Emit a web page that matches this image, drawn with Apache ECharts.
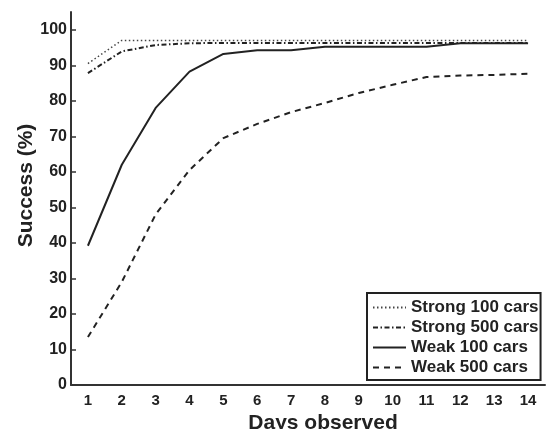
<!DOCTYPE html>
<html>
<head>
<meta charset="utf-8">
<script src="https://cdn.jsdelivr.net/npm/echarts@6/dist/echarts.min.js"></script>
<style>
html,body{margin:0;padding:0;background:#fff;}
#chart{width:547px;height:429px;}
</style>
</head>
<body>
<div id="chart"></div>
<script>
var days = ['1','2','3','4','5','6','7','8','9','10','11','12','13','14'];
var yTicks = [0,10,20,30,40,50,60,70,80,90,100];
var strong100 = [90.5, 97, 97, 97, 97, 97, 97, 97, 97, 97, 97, 97, 97, 97];
var strong500 = [87.8, 93.9, 95.7, 96.2, 96.3, 96.3, 96.3, 96.3, 96.3, 96.3, 96.3, 96.3, 96.3, 96.3];
var weak100 = [39.2, 62, 78, 88.2, 93.2, 94.2, 94.2, 95.2, 95.2, 95.2, 95.2, 96.2, 96.2, 96.2];
var weak500 = [13.5, 29, 48, 60.5, 69.5, 73.5, 76.8, 79.4, 82.2, 84.5, 86.7, 87.1, 87.3, 87.6];

var FONT = 'Liberation Sans, Arial, sans-serif';
var INK = '#222';
var chart = echarts.init(document.getElementById('chart'), null, {renderer:'canvas'});
function mk(name, data, type, width, color){
  return {
    name: name, type: 'line', data: data, symbol: 'none', animation: false,
    lineStyle: {color: color, width: width, type: type},
    itemStyle: {color: color}
  };
}
chart.setOption({
  animation: false,
  backgroundColor: '#fff',
  grid: {left: 71, right: 2, top: 12, bottom: 44, containLabel: false, outerBoundsMode: 'none'},
  xAxis: {
    type: 'category', data: days, boundaryGap: true,
    name: 'Days observed', nameLocation: 'middle', nameGap: 28, nameMoveOverlap: false,
    nameTextStyle: {fontFamily: FONT, fontWeight: 'bold', fontSize: 21, color: INK, padding: [0,0,0,30]},
    axisLine: {lineStyle: {color: '#333', width: 2}},
    axisTick: {inside: true, length: 4, alignWithLabel: true, lineStyle: {color: '#333', width: 1.5}},
    axisLabel: {fontFamily: FONT, fontWeight: 'bold', fontSize: 15, color: INK, margin: 8, interval: 0},
    splitLine: {show: false}
  },
  yAxis: {
    type: 'value', min: 0, max: 105,
    name: 'Success (%)', nameLocation: 'middle', nameGap: 34, nameRotate: 90, nameMoveOverlap: false,
    nameTextStyle: {fontFamily: FONT, fontWeight: 'bold', fontSize: 21, color: INK, padding: [0,0,0,26]},
    axisLine: {show: true, lineStyle: {color: '#333', width: 2}},
    axisTick: {show: true, inside: true, length: 5, customValues: yTicks, lineStyle: {color: '#333', width: 1.5}},
    axisLabel: {fontFamily: FONT, fontWeight: 'bold', fontSize: 16, color: INK, margin: 4, customValues: yTicks},
    splitLine: {show: false}
  },
  legend: {
    orient: 'vertical', left: 367, top: 293,
    itemWidth: 33, itemHeight: 14, itemGap: 3,
    padding: [6, 2, 4, 5],
    borderColor: '#222', borderWidth: 2, backgroundColor: '#fff',
    itemStyle: {opacity: 0},
    textStyle: {fontFamily: FONT, fontWeight: 'bold', fontSize: 17, color: INK},
    data: ['Strong 100 cars', 'Strong 500 cars', 'Weak 100 cars', 'Weak 500 cars']
  },
  series: [
    mk('Strong 100 cars', strong100, [1.5, 2.5], 1.5, '#444'),
    mk('Strong 500 cars', strong500, [5, 2.5, 1.5, 2.5], 2, INK),
    mk('Weak 100 cars', weak100, 'solid', 2, INK),
    mk('Weak 500 cars', weak500, [6, 5], 2, INK)
  ]
});
</script>
</body>
</html>
